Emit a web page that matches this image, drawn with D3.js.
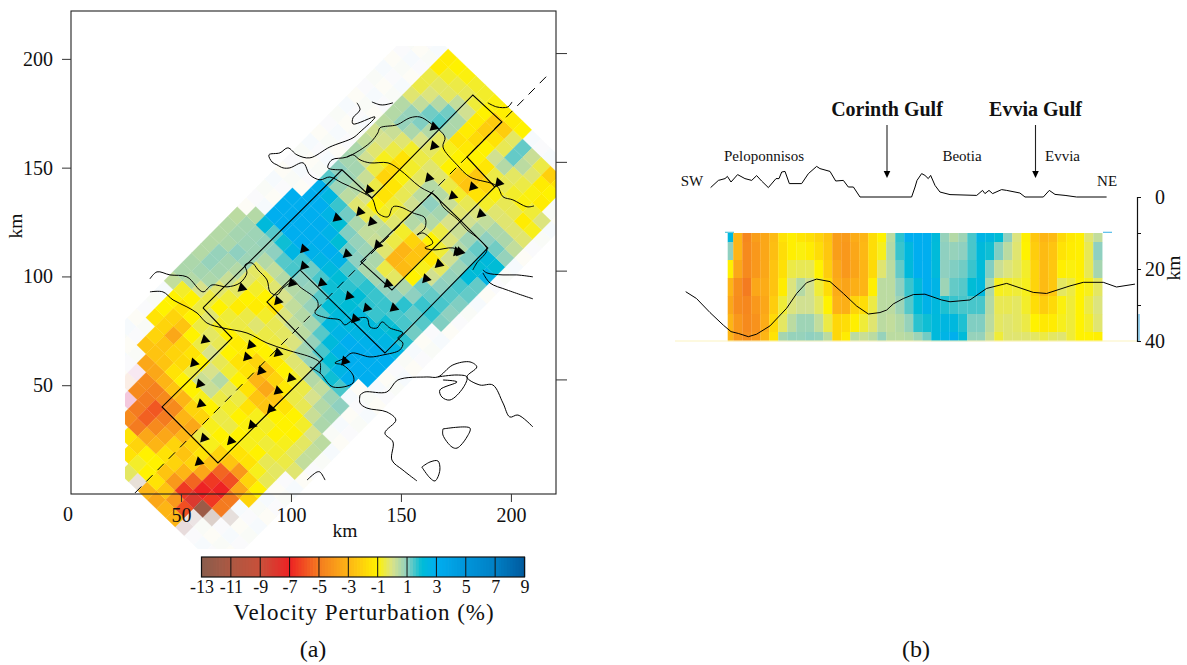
<!DOCTYPE html>
<html>
<head>
<meta charset="utf-8">
<script src="https://cdn.jsdelivr.net/npm/d3@7"></script>
<style>
  html, body { margin: 0; background: #fff; }
  text { font-family: "Liberation Serif", serif; fill: #111; }
</style>
</head>
<body>
<svg id="chart" width="1187" height="665"></svg>
<script>
const _ = null; // poorly resolved cell, printed almost white

// velocity perturbation (%) of the map cells, outer index runs SW to NE, inner NW to SE
const cellValues = [
  [_,_,_,_,_,_,_,_,-.3,_,-3,-3.5,-3,-3],
  [_,_,_,_,_,_,_,-1.5,-.7,-1,-1.5,-2.5,-4,-6],
  [_,_,_,_,_,_,-1.5,-2,-1,-1,-2.5,-4,-6.5,-8,-12],
  [_,_,_,_,_,-4.5,-5,-3.5,-3,-1.5,-2,-3,-5.5,-7,-6.5,-5],
  [_,_,_,_,_,-5,-5.6,-4.5,-3.5,-2,-2.5,-2,-3.5,-6.5,-7,-5],
  [_,_,_,_,-4.5,-5,-5.8,-5,-4,-3,-2,-1.5,-2.5,-5.5,-6,-3.5,-2],
  [_,_,_,_,-4.5,-4.8,-4.5,-4.5,-3,-3.5,-.5,-.8,-2,-2.5,-4,-2,-1],
  [_,_,_,-3.5,-3.5,-3,-2.5,-3,-2,-2,-.8,-1,-1,-1.5,-1.5,-.8,-.4],
  [_,_,-2.5,-2.5,-2.5,-1.5,-1,-1,-.8,-1,-.5,-.5,-1,-.8,-1,-.4,-.3],
  [_,_,-2,-2.5,-2,-1.8,-.5,.2,.2,-.5,-.7,-1,-.9,-.8,-.6,-.7,-.5,-.2],
  [_,-1.5,-2,-3.5,-2,-1.5,-1,0,.5,-.3,-.5,-1.5,-.8,-.7,-1,-.8,-.3,.3],
  [_,-1,-2,-2.5,-1,-.5,0,-.4,-.6,-1,-1.5,-2.5,-2.5,-1,-1,-1,-.3,.3],
  [_,-1,-1.5,-1,-.5,-.3,-.4,-1,-1.5,-1.5,-3,-3.5,-2.5,-1.5,-1,-.7,0,.4],
  [.3,-.7,-1,-.5,-.2,-.7,-1,-1.2,-1.2,-2,-2.5,-2,-1.3,-.5,-.4,.2,.6],
  [.6,.5,0,-.5,-1,-.6,-.5,-.6,-1,-1,-1.3,-1,-.7,-.5,0,.5,.7],
  [.6,.7,.6,-.2,-.6,-1.2,-.5,-.2,-.5,-.5,-.5,-.2,-.2,.5,.3,.8,1],
  [.5,.9,.7,.2,-.3,-1,-1.2,-.7,-.4,-.3,-.1,.7,.9,1.5,1.9,1.5],
  [.5,.9,.7,.5,-.2,-.7,-1,-1.5,-.1,.3,.4,.9,1.5,2,2.6,2.9],
  [.5,.6,1,.8,-.3,-.5,-.2,0,.3,.5,.7,1.4,2.2,2.7,3,3,3],
  [.5,.7,.8,.8,.5,.3,.5,.5,.6,.9,1.4,2.3,2.6,3,3,3,3],
  [.4,.7,.8,.9,1,1.4,1.5,1,.9,1.4,2,2.2,2.3,2.5,2.8,3,3],
  [_,.5,2.2,1.4,1.9,2.5,1.5,1.2,1.5,1.9,1.9,2,2.3,2.2,2.3,2.5,2.5],
  [_,_,3,3,3,3,2.8,2.6,2.3,2,1.7,2,1.7,1.6,1.9,2,1.7],
  [_,_,3,3,3,3,3,3,2.7,1.5,1.5,1.7,1.6,1.6,1.5,1.5,1.2],
  [_,_,3,3,3,3.1,2.7,2,1.2,1,.6,.7,.9,1,1.7,1.3,1.4],
  [_,_,_,3,3,2.6,2,1.1,.9,.8,.6,-.5,-.3,.6,1,1.6,1.7,1.1],
  [_,_,_,2.9,2.4,1.6,1.2,.6,.3,.2,-.2,-3,-2.8,-1,1.2,1.3,1.5,1],
  [_,_,_,1.4,.8,.4,-.2,-.4,.3,.4,-.5,-3,-2.5,-.8,.1,1,1.4,1.1],
  [_,_,_,1,.8,.5,0,-1,-.7,-.2,-.7,-2,-2.5,-1.3,-.3,.9,1.5,1.3],
  [_,_,_,.7,.7,.2,-.5,-1.5,-.6,-.4,.5,0,-1,-.6,.1,.8,2.1,1.3],
  [_,_,_,.6,.1,-.5,-2,-1.4,-.4,.1,.7,.5,-.5,-.1,.5,1.1,2,2.6],
  [_,_,_,.3,-.2,-.8,-1.8,-.9,-.3,.4,1,.7,0,.2,.8,1.3,2.2,2],
  [_,_,_,.1,0,-.5,-1.5,-.7,-.3,.5,.5,.2,-.2,.1,.6,1,1.2,.9],
  [_,_,_,.4,.2,-.2,-.7,-.5,-.2,-.2,-.5,-.7,-.4,-.1,.3,.6,.6,.3],
  [_,_,_,.5,.9,.6,0,-.3,-.6,-1,-2.2,-2.5,-1.5,-.7,-.2,-.2,-.2,-.2],
  [_,_,_,.5,.9,1.1,.5,-.3,-.8,-1,-1.2,-2.4,-2,-.9,-.4,-.4,-1.2,-.8],
  [_,_,_,-.2,.3,1.2,1.4,.6,-1.5,-1.3,-1,-1.4,-.5,-.4,-.7,-.9,-.6,-.1],
  [_,_,_,-.5,-.1,.5,1.2,.6,-1.2,-1.8,-1,.1,.5,-.3,-.5,-.9,-1.2],
  [_,_,_,-.5,-.3,-.3,.3,.1,-1.2,-2.2,-1.5,-.4,1.3,.4,-.2,-1.2,-1],
  [_,_,_,-1.2,-.7,-.5,-.4,-.6,-1,-2.3,-2.2,-.3,1.3,.2,-.5,-2.1,-1.5],
  [_,_,_,-1.2,-1,-.9,-.7,-.7,-.9,-1.1,-1.2,-1]
];
// [outer index, inner index, tint] for the few faint cells that keep a visible tint
const tintedCells = [[4,4,"#f4c9de"],[6,3,"#f8e8f2"],[5,3,"#fbeee6"],[2,15,"#dcd0ca"],[3,16,"#e6dfdc"],[0,9,"#e8e0d8"],[0,14,"#e8dcdc"],[1,14,"#ece4e4"]];
const faintTints = ["#f6fafd", "#fdfcf6", "#fafafc", "#f9fbf7"];

// grid of the map in km
const gridOrigin = [-7.6, 42.8];
const gridStepA = [4.16, 4.25];
const gridStepB = [4.225, -4.135];
const gridCols = 19;

const mapTicks = [50, 100, 150, 200];
const legendTicks = [-13, -11, -9, -7, -5, -3, -1, 1, 3, 5, 7, 9];
const colorStops = [-13, -11, -9, -7, -5, -3, -1, 0, 1, 2, 3, 5, 7, 9];
const colorValues = ["#8a5d4c", "#ad5842", "#c9503a", "#ed2224", "#f47b20", "#fdb515", "#fff200", "#d8e28c", "#8fd0c0", "#00bcd6", "#00aeef", "#0095da", "#0080c5", "#005a9e"];

// survey stations, km
const stations = [[60.9,70.8],[55.9,60.2],[58.6,50.6],[59.1,41.4],[60.5,25.7],[72.7,24.4],[58.2,14.7],[82.3,31.7],[90.9,39.1],[94.1,47.4],[100,53.3],[86.4,56.6],[94.1,64.8],[80,63],[81.8,68.5],[77.7,94.7],[94.1,88.7],[100.5,97],[165,168.7],[165,160],[162.7,145.3],[173.6,137],[182.7,141.2],[194.5,143],[186.4,128.7],[135.5,139.8],[131.4,129.7],[120.9,126.9],[136.8,125.1],[139.5,114.5],[125.5,110.3],[175.5,111.3],[176.8,111.3],[167.3,105.7],[105.9,112.6],[105.9,104.8],[114.1,97],[126.4,91],[134.5,85.5],[146.8,85.5],[129.1,80.5],[124.5,61.1],[144.1,96.6],[161.4,98.9]];

const profileLine = [[29.1,.5],[216.8,192.6]];
const boxLines = [
  [[60,85.5],[123.2,149],[136.8,136.1],[182.7,183.4],[195.9,171],[180,154.9],[192.7,141.1],[145.9,93.8],[131.8,106.7],[164.1,138.4],[176.8,126]],
  [[60,85.5],[73.2,71.7],[41.4,40],[66.8,14.3],[114.5,62.1],[89.1,88.3],[104.1,103],[142.7,64.8],[189.5,113.1],[176.8,126]]
];

const coastlines = [
  [[136.8,180.2],[140.5,178.9],[142.7,178.9],[146.4,179.8]],
  [[130,179.8],[131.4,176.6],[128.2,172.9],[128.2,170.1],[138.2,173.3],[131.4,166.4],[128.2,163.7],[117.7,159.5],[108.6,154.5],[102.7,155.9],[98.6,159.1],[95,156.8],[90,155.9],[91.4,152.6],[93.6,151.3],[96.4,149.9],[99.5,149.9],[105.5,152.2],[108.6,146.7],[113.2,144.4],[117.7,145.7],[123.2,143],[130,139.8],[135.9,136.6],[137.3,135.2],[139.5,129.2],[144.1,127.4],[146.4,132],[149.5,132],[155.5,129.2],[160.9,126.9],[160.9,122.3],[157.3,119.1],[160,120],[164.5,115.4],[160.9,113.1],[165.5,112.2],[173.6,113.1],[178.2,110.8]],
  [[123.2,149],[116.8,149.9],[118.6,153.6],[125.5,154.9],[135.9,161.4],[139.5,166],[140.5,168.3],[148.2,169.7],[154.1,172.9],[158.6,173.3],[163.2,170.6],[170,164.1],[169.1,159.5],[175.5,151.3],[181.4,145.7],[193.6,141.6],[196.4,136.6],[200.9,135.2],[207.3,132],[210.5,132.4]],
  [[125.5,154.9],[128.2,155.9],[131.4,153.6],[135.9,152.2],[144.1,152.2],[149.5,149],[158.6,141.2],[166.4,136.6],[169.1,132],[175.9,126],[180,121.4],[185.9,116.8],[189.1,112.2],[184.5,106.2],[182.7,103]],
  [[189.5,179.8],[193.6,177.9],[198.6,177.9],[200.5,180.2]],
  [[187.3,103],[189.1,101.6],[196.4,100.7],[202.7,100.7],[210,99.8]],
  [[187.3,101.6],[190.5,97],[198.2,93.8],[210,89.7]],
  [[35.9,98.9],[39.1,102.1],[45,100.7],[52.7,99.8],[60,92.9],[64.1,96.1],[70.9,95.2],[76.8,97],[80,101.6],[79.1,105.3],[82.3,106.2],[85,103],[89.1,98.4],[90.5,92.9],[93.6,91.5],[96.4,94.7],[99.5,97],[100.9,98.4],[104.1,95.2],[111.8,89.2],[112.3,86],[110.9,83.2],[116.4,80.9],[122.3,80],[124.5,77.7],[128.2,80],[134.5,80.9],[135.9,76.8],[139.1,76.3],[141.4,79.1],[145,76.3],[150.9,74],[148.6,71.7],[150.9,69.4],[149.5,66.2],[141.8,63.9],[135.9,63],[127.7,64.8],[124.5,62.5],[120,60.2],[123.6,59.3],[128.2,54.7],[128.2,51],[119.1,49.2],[113.2,55.6],[108.6,58.4]],
  [[35.9,92.9],[41.8,92.9],[46.4,89.2],[52.7,86],[57.3,83.2],[61.8,78.6],[69.1,76.3],[80,74],[89.1,69.4],[98.2,66.2],[110,62.5],[113.2,60.2],[113.2,55.6]],
  [[131.4,45.5],[133.6,46.9],[143.6,46.9],[148.6,52.4],[161.8,53.8],[166.8,53.8],[173.6,59.3],[181.4,60.7],[184.5,58.4],[180,53.8],[185.9,50.1],[191.8,50.1],[196.4,41.8],[199.5,35.4],[203.2,36.3],[210,30.8]],
  [[166.8,53.8],[175.5,54.7],[180,53.8],[178.2,48.7],[172.3,43.2],[168.6,44.6],[167.7,47.8],[175.5,51.5],[169.1,52.4]],
  [[131.4,45.5],[131.4,41.8],[134.5,39.5],[143.6,37.7],[147.7,34],[142.7,28],[146.4,23.9],[145.9,15.6],[150.9,11],[157.3,6]],
  [[169.1,29.9],[181.4,30.3],[180,26.2],[175.5,21.1],[173.2,21.6],[169.1,27.1],[169.1,29.9]],
  [[159.5,12.4],[163.2,14.7],[166.8,15.2],[167.7,11],[165.5,6],[163.2,7.4],[159.5,12.4]],
  [[107.3,6.4],[111.8,10.1],[113.2,10.1],[115.5,6.4]]
];

// cross section (b): values per column, top row to bottom row
const sectionDepths = [10, 12.5, 17.5, 22.5, 27.5, 32.5, 37.5, 40];
const sectionDists = [1.8, 5.5, 11.5, 17.5, 23.5, 29.5, 35.5, 41.5, 47.5, 53.5, 59.5, 65.5, 71.5, 77.5, 83.5, 89.5, 95.5, 101.5, 107.5, 113.5, 119.5, 125.5, 131.5, 137.5, 143.5, 149.5, 155.5, 161.5, 167.5, 173.5, 179.5, 185.5, 191.5, 197.5, 203.5, 209.5, 215.5, 221.5, 227.5, 233.5, 239.5, 245.5, 251.5];
const sectionValues = [
  [2.3,1,-1.1,-3,-3.5,-3,-3],
  [-3,-3,-3.5,-4.3,-4.4,-4,-4],
  [-4.6,-4.5,-4.5,-5,-4.6,-4.5,-4.3],
  [-3.8,-4,-4,-3.5,-4,-4.2,-4],
  [-3.5,-3.5,-3.5,-3.3,-3.5,-3.3,-3],
  [-2.8,-2.7,-2.5,-2.5,-2.2,-1.8,-1.5],
  [-1.5,-1.7,-1.6,-1.2,-.6,-.3,.7],
  [-1.1,-1.1,-.5,-.1,-.1,.4,.9],
  [-1.4,-.9,-.4,.5,.1,.8,.9],
  [-1.6,-1.2,-.4,.1,.1,.8,1],
  [-2,-1.7,-1,-.6,-.3,.3,.9],
  [-2.5,-2.4,-2.2,-1.7,-1,-.5,.4],
  [-3.8,-3.8,-3.5,-3.3,-3.1,-1.9,-1.9],
  [-3.9,-4,-4,-3.6,-3.2,-1.7,-1.2],
  [-3.3,-3.5,-3.6,-3.2,-2,-1.1,.4],
  [-3,-2.9,-3,-3,-1.7,-.6,.2],
  [-1.7,-1.7,-1.8,-1.1,-.5,-.2,.4],
  [-1,-.8,-.2,.4,.4,.4,.9],
  [.4,.5,.4,.4,.4,.3,.4],
  [1.7,1.6,1.3,1,.8,.5,.4],
  [3,2.3,2.2,1.6,1.4,.9,.5],
  [3,3,3,2.2,2.1,1.7,.8],
  [3,3,3,3,2.7,1.9,1.2],
  [2.2,2.1,2.2,2.6,2.3,2.2,2.2],
  [.9,1,1,.8,1.8,2.4,2.6],
  [.5,.9,1.1,1.3,1.6,2.3,2.9],
  [.8,1,1.2,1.4,1.5,1.8,2.1],
  [1.5,1.5,1.6,2,1.5,1.1,.9],
  [2.6,2.2,2.1,2.3,1.5,1.1,.9],
  [2.4,1.9,1.1,.6,.5,.4,.2],
  [2,1.1,.2,-.8,-.4,-.3,-.6],
  [1,.4,-.1,-.7,-.4,-.2,-.2],
  [-.1,-.2,-.3,-.6,-.3,-.3,-.2],
  [-1.1,-1,-.7,-.8,-.7,-.5,-.2],
  [-2.4,-2.2,-2,-2,-1.7,-1,-.3],
  [-3,-2.8,-2.8,-2.8,-2.2,-1.3,-.5],
  [-2.8,-2.5,-2.4,-2.4,-1.8,-1.2,-.3],
  [-1.8,-1.5,-1.1,-.3,-.9,-.8,-.2],
  [-1.3,-1.2,-.9,-.5,-.6,-.6,-.6],
  [-1.1,-1.1,-1.1,-1,-1,-1,-1],
  [-.2,-.4,-.4,-.8,-.5,-.7,-1],
  [.3,1,.7,-.3,-.1,-.2,-1.1]
];

// distance along profile (km) and elevation (km)
const topography = [[-9.6,.47],[-4.4,.83],[0,.92],[1.6,1.03],[4,.75],[8.4,1.12],[13.3,.92],[17.8,.83],[21.1,1.07],[24.4,.8],[28.9,.47],[34,.92],[36,.92],[37.8,1.25],[40,1.28],[42.9,.67],[51.1,.67],[55.6,1.17],[61.1,1.53],[63.3,1.42],[70,1.28],[73.8,.8],[78.9,.83],[82.2,.5],[85.6,.5],[90,0],[124.4,0],[126.7,.5],[128,.83],[131.1,1.17],[133.3,1.08],[135.5,.92],[137.1,1.08],[140,.58],[143.3,.25],[150,.12],[167.8,.08],[171.7,.33],[173.3,.17],[176,.33],[178.4,.17],[184.4,.37],[187.8,.33],[196.6,.2],[200,0],[212.2,0],[216.2,.33],[220,.13],[226.7,.08],[234.4,0],[254.4,0]];
// distance along profile (km) and depth of the Moho (km)
const moho = [[-26.2,26.3],[-19,28.2],[-10,32.1],[-1.1,35.6],[4,37.4],[8.9,37.9],[15.6,38.8],[21.1,38.1],[30,35.8],[41.1,30.9],[47.8,26.8],[54.4,23.8],[61.1,22.8],[70,23.5],[78.9,26.8],[87.8,30.3],[95.6,32.5],[103.3,32.1],[107.8,31.4],[112.2,29.7],[118.9,28.2],[125.6,27.1],[133.3,27],[144.4,28.6],[150,29.1],[163.3,28.6],[174.4,25.4],[187.8,24],[205.5,26.5],[214.4,26.8],[230,24.7],[238.9,23.7],[252.2,23.7],[261,25],[273.3,24.2]];
const depthTicks = [0, 10, 20, 30, 40];
const depthLabels = [0, 20, 40];

const svg = d3.select("#chart");

const color = d3.scaleLinear().domain(colorStops).range(colorValues).clamp(true);
const x = d3.scaleLinear().domain([0, 220.5]).range([71, 556]);
const y = d3.scaleLinear().domain([0, 222]).range([494, 11]);
const yRight = d3.scaleLinear().domain([0, 222]).range([488.2, 5.2]);

// map cells
svg.append("defs").append("clipPath").attr("id", "mapClip")
  .append("rect").attr("x", 125).attr("y", 46).attr("width", 431).attr("height", 503);

const cells = [];
d3.range(41).forEach((i) => {
  d3.range(gridCols).forEach((j) => {
    const row = cellValues[i];
    const value = row[j] === undefined ? null : row[j];
    const tint = tintedCells.find((t) => t[0] === i && t[1] === j);
    cells.push({ i, j, value, tint: tint ? tint[2] : faintTints[(i + 2 * j) % 4] });
  });
});

function cellPath(d) {
  const cx = gridOrigin[0] + gridStepA[0] * d.i + gridStepB[0] * d.j;
  const cy = gridOrigin[1] + gridStepA[1] * d.i + gridStepB[1] * d.j;
  const corner = (sa, sb) => [
    x(cx + sa * gridStepA[0] + sb * gridStepB[0]),
    y(cy + sa * gridStepA[1] + sb * gridStepB[1])
  ];
  return d3.line()([corner(-0.5, -0.5), corner(0.5, -0.5), corner(0.5, 0.5), corner(-0.5, 0.5)]) + "Z";
}

const fill = (d) => (d.value === null ? d.tint : color(d.value));

svg.append("g")
  .attr("clip-path", "url(#mapClip)")
  .selectAll("path")
  .data(cells.filter((d) => d.value === null).concat(cells.filter((d) => d.value !== null)))
  .enter()
  .append("path")
  .attr("d", cellPath)
  .attr("fill", fill)
  .attr("stroke", fill)
  .attr("stroke-width", 0.3);

// frame and ticks
svg.append("rect")
  .attr("x", x(0)).attr("y", y(222))
  .attr("width", x(220.5) - x(0)).attr("height", y(0) - y(222))
  .attr("fill", "none").attr("stroke", "#222").attr("stroke-width", 1.1);

const lineKm = d3.line().x((d) => x(d[0])).y((d) => y(d[1]));
const coastKm = d3.line().curve(d3.curveCatmullRom.alpha(0.5)).x((d) => x(d[0])).y((d) => y(d[1]));

svg.append("g")
  .selectAll("path")
  .data(coastlines)
  .enter()
  .append("path")
  .attr("d", coastKm)
  .attr("fill", "none")
  .attr("stroke", "#000")
  .attr("stroke-width", 1)
  .attr("stroke-linejoin", "round");

svg.append("g")
  .selectAll("path")
  .data(boxLines)
  .enter()
  .append("path")
  .attr("d", lineKm)
  .attr("fill", "none")
  .attr("stroke", "#000")
  .attr("stroke-width", 1.1);

svg.append("path")
  .attr("d", lineKm(profileLine))
  .attr("fill", "none")
  .attr("stroke", "#000")
  .attr("stroke-width", 1)
  .attr("stroke-dasharray", "9,7");

svg.append("g")
  .selectAll("path")
  .data(stations)
  .enter()
  .append("path")
  .attr("d", d3.symbol().type(d3.symbolTriangle).size(44))
  .attr("transform", (d, i) => `translate(${x(d[0])},${y(d[1])}) rotate(${i % 3 === 0 ? -12 : -18})`)
  .attr("fill", "#000");

function styleAxis(g) {
  g.select(".domain").remove();
  g.selectAll(".tick line").attr("stroke", "#333").attr("stroke-width", 1);
  g.selectAll(".tick text").attr("font-size", 20).attr("fill", "#111");
}

svg.append("g")
  .attr("transform", `translate(${x(0)},0)`)
  .call(d3.axisLeft(y).tickValues(mapTicks).tickSize(9).tickPadding(9))
  .call(styleAxis);

svg.append("g")
  .attr("transform", `translate(${x(220.5)},0)`)
  .call(d3.axisRight(yRight).tickValues(mapTicks).tickSize(11).tickFormat(""))
  .call(styleAxis);

svg.append("g")
  .attr("transform", `translate(0,${y(0)})`)
  .call(d3.axisBottom(x).tickValues(mapTicks).tickSize(8).tickPadding(6))
  .call(styleAxis);

svg.append("text").attr("x", 68).attr("y", 521).attr("text-anchor", "middle").attr("font-size", 20).text("0");
svg.append("text").attr("x", 345).attr("y", 537).attr("text-anchor", "middle").attr("font-size", 19.5).text("km");
svg.append("text").attr("transform", "translate(22,226) rotate(-90)").attr("text-anchor", "middle").attr("font-size", 19.5).text("km");

// colour legend
const legendX = d3.scaleLinear().domain([-13, 9]).range([201.5, 524.5]);
const legendCells = d3.range(-13, 9, 0.2);

svg.append("g")
  .selectAll("rect")
  .data(legendCells)
  .enter()
  .append("rect")
  .attr("x", (d) => legendX(d))
  .attr("y", 557)
  .attr("width", legendX(0.25) - legendX(0))
  .attr("height", 20)
  .attr("fill", (d) => color(d + 0.1));

svg.append("rect")
  .attr("x", legendX(-13)).attr("y", 557)
  .attr("width", legendX(9) - legendX(-13)).attr("height", 20)
  .attr("fill", "none").attr("stroke", "#111").attr("stroke-width", 1.2);

svg.append("g")
  .attr("transform", "translate(0,577)")
  .call(d3.axisBottom(legendX).tickValues(legendTicks).tickSize(0).tickPadding(3).tickFormat((d) => d))
  .call(styleAxis)
  .call((g) => g.selectAll(".tick text").attr("font-size", 18));

svg.append("g")
  .selectAll("line")
  .data(legendTicks)
  .enter()
  .append("line")
  .attr("x1", (d) => legendX(d)).attr("x2", (d) => legendX(d))
  .attr("y1", 557).attr("y2", 577)
  .attr("stroke", "#111").attr("stroke-width", 1);

svg.append("text").attr("x", 364).attr("y", 620).attr("text-anchor", "middle").attr("font-size", 23).attr("letter-spacing", 1).text("Velocity Perturbation (%)");
svg.append("text").attr("x", 313).attr("y", 657).attr("text-anchor", "middle").attr("font-size", 24).text("(a)");
svg.append("text").attr("x", 916).attr("y", 657).attr("text-anchor", "middle").attr("font-size", 24).text("(b)");

// cross section
const xProfile = d3.scaleLinear().domain([0, 100]).range([725, 875]);
const yDepth = d3.scaleLinear().domain([0, 40]).range([197, 341]);
const yElev = d3.scaleLinear().domain([0, 1.5]).range([197, 167]);

const sectionCells = [];
sectionValues.forEach((col, k) => {
  col.forEach((value, r) => sectionCells.push({ k, r, value }));
});

svg.append("g")
  .selectAll("rect")
  .data(sectionCells)
  .enter()
  .append("rect")
  .attr("x", (d) => xProfile(sectionDists[d.k]))
  .attr("y", (d) => yDepth(sectionDepths[d.r]))
  .attr("width", (d) => xProfile(sectionDists[d.k + 1]) - xProfile(sectionDists[d.k]) + 0.2)
  .attr("height", (d) => yDepth(sectionDepths[d.r + 1]) - yDepth(sectionDepths[d.r]) + 0.2)
  .attr("fill", (d) => color(d.value));

svg.append("line")
  .attr("x1", 725).attr("x2", 734).attr("y1", yDepth(9.8)).attr("y2", yDepth(9.8))
  .attr("stroke", "#35bcd6").attr("stroke-width", 1);
svg.append("line")
  .attr("x1", 1103).attr("x2", 1112).attr("y1", yDepth(9.8)).attr("y2", yDepth(9.8))
  .attr("stroke", "#35b0e6").attr("stroke-width", 1);
svg.append("line")
  .attr("x1", 675).attr("x2", 1137).attr("y1", yDepth(40)).attr("y2", yDepth(40))
  .attr("stroke", "#fbf3c0").attr("stroke-width", 1);
svg.append("line")
  .attr("x1", 1139).attr("x2", 1139).attr("y1", yDepth(32.5)).attr("y2", yDepth(40))
  .attr("stroke", "#35a6e0").attr("stroke-width", 1);

const lineElev = d3.line().x((d) => xProfile(d[0])).y((d) => yElev(d[1]));
const lineMoho = d3.line().x((d) => xProfile(d[0])).y((d) => yDepth(d[1]));

svg.append("path").attr("d", lineElev(topography)).attr("fill", "none").attr("stroke", "#000").attr("stroke-width", 1);
svg.append("path").attr("d", lineMoho(moho)).attr("fill", "none").attr("stroke", "#000").attr("stroke-width", 1);

svg.append("g")
  .attr("transform", "translate(1137,0)")
  .call(d3.axisRight(yDepth).tickValues(depthTicks).tickSize(4).tickFormat(""))
  .call((g) => g.select(".domain").attr("stroke", "#111").attr("stroke-width", 1.2))
  .call((g) => g.selectAll(".tick line").attr("stroke", "#111"));

svg.append("g")
  .selectAll("text")
  .data(depthLabels)
  .enter()
  .append("text")
  .attr("x", 1165)
  .attr("y", (d) => yDepth(d) + 7)
  .attr("text-anchor", "end")
  .attr("font-size", 20)
  .text((d) => d);

svg.append("text").attr("transform", "translate(1180,268) rotate(-90)").attr("text-anchor", "middle").attr("font-size", 19.5).text("km");

const profileLabels = ["Peloponnisos", "Beotia", "Evvia", "SW", "NE"];
const profileLabelDist = [26, 158, 225, -22, 254.7];
const profileLabelElev = [1.8, 1.8, 1.8, .55, .55];

svg.append("g")
  .selectAll("text")
  .data(profileLabels)
  .enter()
  .append("text")
  .attr("x", (d, i) => xProfile(profileLabelDist[i]))
  .attr("y", (d, i) => yElev(profileLabelElev[i]))
  .attr("text-anchor", "middle")
  .attr("font-size", 15)
  .text((d) => d);

const gulfLabels = ["Corinth Gulf", "Evvia Gulf"];
const gulfDist = [108, 207];

svg.append("g")
  .selectAll("text")
  .data(gulfLabels)
  .enter()
  .append("text")
  .attr("x", (d, i) => xProfile(gulfDist[i]))
  .attr("y", 116)
  .attr("text-anchor", "middle")
  .attr("font-size", 20)
  .attr("font-weight", "bold")
  .text((d) => d);

gulfDist.forEach((d) => {
  const ax = xProfile(d);
  svg.append("line").attr("x1", ax).attr("x2", ax).attr("y1", 125).attr("y2", 172).attr("stroke", "#222").attr("stroke-width", 1.1);
  svg.append("path").attr("d", `M${ax - 3.3},171L${ax + 3.3},171L${ax},178Z`).attr("fill", "#000");
});
</script>
</body>
</html>
